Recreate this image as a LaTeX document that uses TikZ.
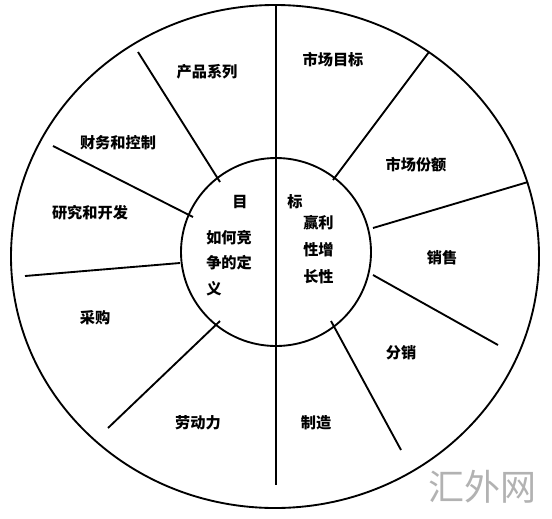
\documentclass[tikz,border=0pt]{standalone}
\usepackage{fontspec}
\newfontfamily\cjk{Noto Sans CJK SC}
\usepackage{tikz}
\tikzset{part/.style={font=\cjk\bfseries\fontsize{11.4}{13}\selectfont,inner sep=0pt},
         goal/.style={part,align=left,anchor=west},
         ring/.style={line width=1.4pt},
            }

\begin{document}
\begin{tikzpicture}[x=0.75pt,y=-0.75pt]
				\useasboundingbox (0,0) rectangle (552,518);
				\draw[ring] (275,256.5) ellipse (264 and 251.5);
				\draw[ring] (276,252) ellipse (95 and 94);
				
				\coordinate (top) at (276,5);
				\coordinate (bottom) at (276,485);
				\coordinate (o1) at (138,52);  \coordinate (i1) at (220,182);
				\coordinate (o2) at (53,146);  \coordinate (i2) at (193,217);
				\coordinate (o3) at (25,276);  \coordinate (i3) at (180,263);
				\coordinate (o4) at (108,428); \coordinate (i4) at (220,321);
				\coordinate (o5) at (401,450); \coordinate (i5) at (331,321);
				\coordinate (o6) at (498,345); \coordinate (i6) at (373,275);
				\coordinate (o7) at (528,182); \coordinate (i7) at (373,228);
				\coordinate (o8) at (429,52);  \coordinate (i8) at (333,180);
				
				\draw[ring] (top) -- (bottom);
				\foreach \n in {1,...,8}
				  \draw[ring] (o\n) -- (i\n);
				
				\node[part] (product) at (207,72) {产品系列};
				\node[part] (finance) at (118,143) {财务和控制};
				\node[part] (research) at (90,213) {研究和开发};
				\node[part] (purchase) at (95,318) {采购};
				\node[part] (labour) at (198,423) {劳动力};
				\node[part] (making) at (316,423) {制造};
				\node[part] (distrib) at (401,353) {分销};
				\node[part] (sales) at (442,258) {销售};
				\node[part] (share) at (416,165) {市场份额};
				\node[part] (market) at (333,60) {市场目标};
				
				\node[part] (mu) at (240,202) {目};
				\node[part] (biao) at (295,202) {标};
				\node[goal,font=\cjk\bfseries\fontsize{11.4}{19}\selectfont] (compete) at (206,263) {如何竞\\争的定\\义};
				\node[goal,font=\cjk\bfseries\fontsize{11.4}{20.3}\selectfont] (profit) at (303,250) {赢利\\性增\\长性};
				
				\node[font=\cjk\fontsize{27}{30}\selectfont,text=black!30] (mark) at (482,487) {汇外网};
			\end{tikzpicture}
\end{document}
